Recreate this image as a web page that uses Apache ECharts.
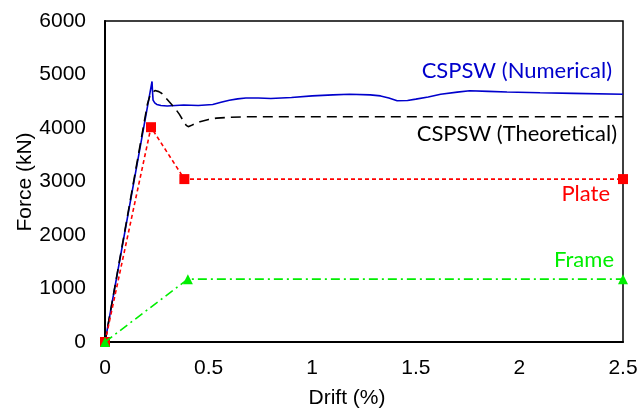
<!DOCTYPE html>
<html>
<head>
<meta charset="utf-8">
<script src="https://cdn.jsdelivr.net/npm/echarts@6/dist/echarts.min.js"></script>
<style>
html,body{margin:0;padding:0;background:#fff;}
#c{width:639px;height:410px;}
</style>
</head>
<body>
<div id="c"></div>
<script>
const xTicks = [0, 0.5, 1, 1.5, 2, 2.5];
const yTicks = [0, 1000, 2000, 3000, 4000, 5000, 6000];

const numericalX = [0, 0.227, 0.229, 0.232, 0.24, 0.25, 0.27, 0.30, 0.34, 0.38, 0.45, 0.52, 0.56, 0.60, 0.64, 0.68, 0.74, 0.80, 0.90, 1.0, 1.10, 1.18, 1.28, 1.33, 1.37, 1.41, 1.46, 1.5, 1.56, 1.62, 1.70, 1.76, 1.85, 1.94, 2.10, 2.26, 2.5];
const numericalY = [0, 4870, 4700, 4520, 4470, 4440, 4420, 4410, 4420, 4430, 4420, 4440, 4480, 4520, 4545, 4560, 4560, 4550, 4570, 4600, 4620, 4630, 4620, 4600, 4560, 4510, 4515, 4540, 4580, 4630, 4670, 4695, 4685, 4673, 4660, 4648, 4630];

const theoreticalX = [0, 0.205, 0.215, 0.225, 0.233, 0.241, 0.25, 0.26, 0.273, 0.29, 0.31, 0.338, 0.36, 0.38, 0.392, 0.402, 0.415, 0.435, 0.458, 0.50, 0.539, 0.60, 0.68, 2.5];
const theoreticalY = [0, 4450, 4580, 4655, 4690, 4700, 4695, 4680, 4650, 4580, 4490, 4370, 4250, 4120, 4050, 4025, 4045, 4085, 4118, 4160, 4185, 4200, 4210, 4210];

const plateX = [0, 0.222, 0.383, 2.5];
const plateY = [0, 4015, 3045, 3045];

const frameX = [0, 0.40, 2.5];
const frameY = [0, 1175, 1175];

const zip = (xs, ys) => xs.map((x, i) => [x, ys[i]]);

const chart = echarts.init(document.getElementById('c'), null, {renderer: 'canvas'});
const labelFont = '"Liberation Sans", Arial, sans-serif';
const annFont = 'Lato, sans-serif';

chart.setOption({
  animation: false,
  backgroundColor: '#fff',
  grid: {left: 105, right: 16, top: 21, bottom: 68, containLabel: false, outerBoundsMode: 'none', show: true, borderColor: '#000', borderWidth: 1.5, backgroundColor: 'transparent'},
  xAxis: {
    type: 'value', min: xTicks[0], max: xTicks[xTicks.length - 1], interval: 0.5,
    name: 'Drift (%)', nameLocation: 'middle', nameGap: 46,
    nameTextStyle: {fontFamily: labelFont, fontSize: 21, color: '#000', padding: [0, 34, 0, 0]},
    axisLine: {show: true, lineStyle: {color: '#000', width: 2}},
    axisTick: {show: false},
    splitLine: {show: false},
    axisLabel: {fontFamily: labelFont, fontSize: 21, color: '#000', margin: 16, formatter: v => String(v)}
  },
  yAxis: {
    type: 'value', min: yTicks[0], max: yTicks[yTicks.length - 1], interval: 1000,
    axisLine: {show: true, lineStyle: {color: '#000', width: 2}},
    axisTick: {show: false},
    splitLine: {show: false},
    axisLabel: {fontFamily: labelFont, fontSize: 21, color: '#000', margin: 19, formatter: v => String(v)}
  },
  series: [
    {
      name: 'CSPSW (Numerical)', type: 'line', data: zip(numericalX, numericalY),
      showSymbol: false, symbol: 'none', smooth: false,
      lineStyle: {color: '#0000cc', width: 1.6}, z: 3
    },
    {
      name: 'CSPSW (Theoretical)', type: 'line', data: zip(theoreticalX, theoreticalY),
      showSymbol: false, symbol: 'none', smooth: false,
      lineStyle: {color: '#000', width: 1.6, type: [10, 6]}, z: 4
    },
    {
      name: 'Plate', type: 'line', data: zip(plateX, plateY),
      symbol: 'rect', symbolSize: 10,
      itemStyle: {color: '#ff0000'},
      lineStyle: {color: '#ff0000', width: 1.6, type: [4, 3]}, z: 5
    },
    {
      name: 'Frame', type: 'line', data: zip(frameX, frameY),
      symbol: 'triangle', symbolSize: 10,
      itemStyle: {color: '#00ee00'},
      lineStyle: {color: '#00ee00', width: 1.6, type: [9, 4, 2, 4]}, z: 6
    }
  ],
  graphic: [
    {type: 'text', x: 25, y: 182, rotation: Math.PI / 2, style: {text: 'Force (kN)', fill: '#000', font: '21px ' + labelFont, textAlign: 'center', textVerticalAlign: 'middle'}},
    {type: 'text', right: 27, top: 60, style: {text: 'CSPSW (Numerical)', fill: '#0000cc', font: '22px ' + annFont, textAlign: 'right'}},
    {type: 'text', right: 22, top: 123, style: {text: 'CSPSW (Theoretical)', fill: '#000', font: '22px ' + annFont, textAlign: 'right'}},
    {type: 'text', right: 29, top: 183, style: {text: 'Plate', fill: '#ff0000', font: '22px ' + annFont, textAlign: 'right'}},
    {type: 'text', right: 25, top: 249, style: {text: 'Frame', fill: '#00ee00', font: '22px ' + annFont, textAlign: 'right'}}
  ]
});
</script>
</body>
</html>
